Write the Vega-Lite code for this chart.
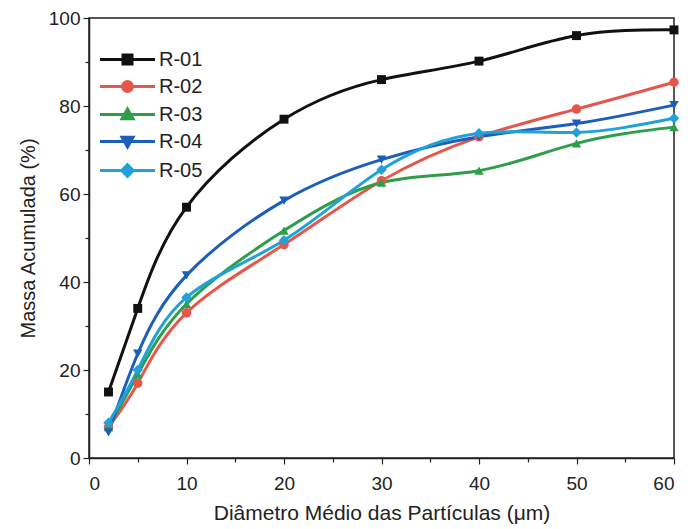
{
  "$schema": "https://vega.github.io/schema/vega-lite/v6.json",
  "width": 585,
  "height": 440,
  "autosize": {"type": "none"},
  "padding": {"left": 89, "top": 18, "right": 14, "bottom": 71},
  "background": "white",
  "config": {
    "view": {"stroke": "#222", "strokeWidth": 1.5},
    "font": "Liberation Sans",
    "axis": {
      "domainColor": "#222", "domainWidth": 1.5, "tickColor": "#222", "tickWidth": 1.2,
      "grid": false, "labelFont": "Liberation Sans", "labelFontSize": 19, "labelColor": "#222",
      "titleFont": "Liberation Sans", "titleFontSize": 20, "titleFontWeight": "normal", "titleColor": "#222"
    }
  },
  "data": {"values": [
    {"d": 2, "m": 15, "s": "R-01"}, {"d": 5, "m": 34, "s": "R-01"}, {"d": 10, "m": 57, "s": "R-01"}, {"d": 20, "m": 77, "s": "R-01"}, {"d": 30, "m": 86, "s": "R-01"}, {"d": 40, "m": 90.2, "s": "R-01"}, {"d": 50, "m": 96, "s": "R-01"}, {"d": 60, "m": 97.3, "s": "R-01"},
    {"d": 2, "m": 7, "s": "R-02"}, {"d": 5, "m": 17, "s": "R-02"}, {"d": 10, "m": 33, "s": "R-02"}, {"d": 20, "m": 48.5, "s": "R-02"}, {"d": 30, "m": 63, "s": "R-02"}, {"d": 40, "m": 73, "s": "R-02"}, {"d": 50, "m": 79.3, "s": "R-02"}, {"d": 60, "m": 85.4, "s": "R-02"},
    {"d": 2, "m": 7, "s": "R-03"}, {"d": 5, "m": 19, "s": "R-03"}, {"d": 10, "m": 35, "s": "R-03"}, {"d": 20, "m": 51.7, "s": "R-03"}, {"d": 30, "m": 62.6, "s": "R-03"}, {"d": 40, "m": 65.3, "s": "R-03"}, {"d": 50, "m": 71.5, "s": "R-03"}, {"d": 60, "m": 75.2, "s": "R-03"},
    {"d": 2, "m": 5.8, "s": "R-04"}, {"d": 5, "m": 23.7, "s": "R-04"}, {"d": 10, "m": 41.5, "s": "R-04"}, {"d": 20, "m": 58.5, "s": "R-04"}, {"d": 30, "m": 67.8, "s": "R-04"}, {"d": 40, "m": 73, "s": "R-04"}, {"d": 50, "m": 76, "s": "R-04"}, {"d": 60, "m": 80.2, "s": "R-04"},
    {"d": 2, "m": 8, "s": "R-05"}, {"d": 5, "m": 20, "s": "R-05"}, {"d": 10, "m": 36.5, "s": "R-05"}, {"d": 20, "m": 49.5, "s": "R-05"}, {"d": 30, "m": 65.5, "s": "R-05"}, {"d": 40, "m": 73.8, "s": "R-05"}, {"d": 50, "m": 74, "s": "R-05"}, {"d": 60, "m": 77.2, "s": "R-05"}
  ]},
  "encoding": {
    "x": {"field": "d", "type": "quantitative", "scale": {"domain": [0, 60], "nice": false},
      "axis": {"title": "Diâmetro Médio das Partículas (μm)", "titleFontSize": 21, "values": [0,5,10,15,20,25,30,35,40,45,50,55,60],
        "labelExpr": "datum.value % 10 == 0 ? datum.label : ''",
        "tickSize": {"condition": {"test": "datum.value % 10 == 0", "value": 6}, "value": 4},
        "labelPadding": 10, "titlePadding": 9}},
    "y": {"field": "m", "type": "quantitative", "scale": {"domain": [0, 100], "nice": false},
      "axis": {"title": "Massa Acumulada (%)", "values": [0,10,20,30,40,50,60,70,80,90,100],
        "labelExpr": "datum.value % 20 == 0 ? datum.label : ''",
        "tickSize": {"condition": {"test": "datum.value % 20 == 0", "value": 6}, "value": 4},
        "labelPadding": 3, "titlePadding": 10}},
    "color": {"field": "s", "type": "nominal",
      "scale": {"domain": ["R-01","R-02","R-03","R-04","R-05"], "range": ["#111111", "#e5574b", "#2f9e4a", "#1b5fba", "#20a2d8"]},
      "legend": {"title": null, "orient": "none", "legendX": 27, "legendY": 30,
        "symbolSize": 400, "symbolStrokeWidth": 3, "symbolOpacity": 1,
        "labelFontSize": 20, "labelFont": "Liberation Sans", "labelColor": "#222", "labelOffset": 20,
        "rowPadding": 5,
        "encode": {"symbols": {"update": {
          "shape": {"signal": "datum.value == 'R-01' ? 'M-2.75,0H2.75M-0.45,-0.45H0.45V0.45H-0.45Z' : datum.value == 'R-02' ? 'M-2.75,0H2.75M-0.5,0A0.5,0.5,0,1,0,0.5,0A0.5,0.5,0,1,0,-0.5,0Z' : datum.value == 'R-03' ? 'M-2.75,0H2.75M0,-0.55L0.55,0.42L-0.55,0.42Z' : datum.value == 'R-04' ? 'M-2.75,0H2.75M0,0.55L0.55,-0.42L-0.55,-0.42Z' : 'M-2.75,0H2.75M0,-0.58L0.58,0L0,0.58L-0.58,0Z'"},
          "stroke": {"scale": "color", "field": "value"},
          "fill": {"scale": "color", "field": "value"},
          "strokeWidth": {"value": 3},
          "opacity": {"value": 1}}}}}}
  },
  "layer": [
    {"mark": {"type": "line", "interpolate": "natural", "strokeWidth": 3}},
    {"transform": [{"filter": "datum.s == 'R-01'"}], "mark": {"type": "point", "shape": "square", "filled": true, "opacity": 1, "size": 80}},
    {"transform": [{"filter": "datum.s == 'R-02'"}], "mark": {"type": "point", "shape": "circle", "filled": true, "opacity": 1, "size": 90}},
    {"transform": [{"filter": "datum.s == 'R-03'"}], "mark": {"type": "point", "shape": "triangle-up", "filled": true, "opacity": 1, "size": 90}},
    {"transform": [{"filter": "datum.s == 'R-04'"}], "mark": {"type": "point", "shape": "triangle-down", "filled": true, "opacity": 1, "size": 90}},
    {"transform": [{"filter": "datum.s == 'R-05'"}], "mark": {"type": "point", "shape": "diamond", "filled": true, "opacity": 1, "size": 110}}
  ]
}
